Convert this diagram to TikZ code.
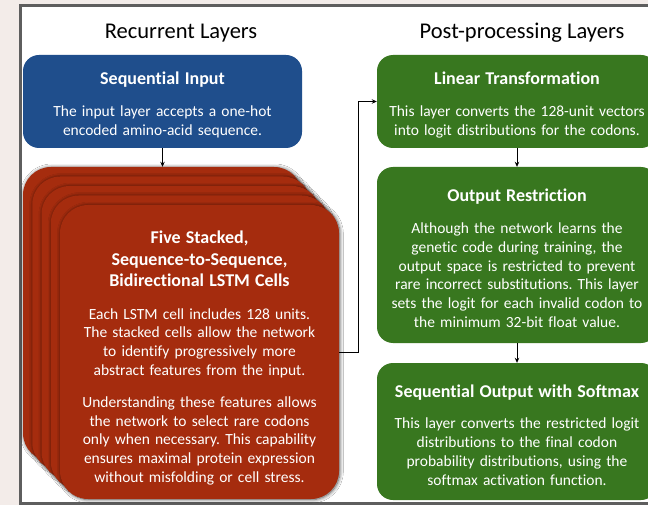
\documentclass[tikz,border=0pt]{standalone}
\usepackage{fontspec}
\setmainfont{Carlito}[Ligatures={NoCommon}]
\usetikzlibrary{arrows.meta,shadows.blur}
\frenchspacing

\definecolor{pagebg}{HTML}{F3ECE9}
\definecolor{framegray}{HTML}{5E5E5E}
\definecolor{inblue}{HTML}{1F4E8C}
\definecolor{lstmred}{HTML}{A52C0E}
\definecolor{postgreen}{HTML}{38771F}

\newcommand\ttlfont{\fontsize{18}{21.5}\selectfont\bfseries}
\newcommand\bodyfont{\fontsize{15.5}{18.8}\selectfont}
\newcommand\headfont{\fontsize{22.5}{27}\selectfont}
% block title; the strut sets the room above the first line
\newcommand\blocktitle[2][19.5pt]{{\ttlfont\rule{0pt}{#1}#2}}

\begin{document}
\begin{tikzpicture}[x=1pt,y=-1pt,
  blk/.style={rounded corners=16pt, text=white, align=center, font=\bodyfont,
    inner xsep=5pt, inner ysep=0pt, text width=270pt, minimum width=280pt},
  cardbox/.style={blk, fill=lstmred, rounded corners=28pt, text width=269pt,
    minimum width=279pt, minimum height=294pt,
    blur shadow={shadow xshift=0.8pt, shadow yshift=-0.5pt, shadow blur radius=3.5pt,
      shadow opacity=70, shadow blur steps=8}},
  heading/.style={font=\headfont, anchor=base, text=black},
  link/.style={draw=black, line width=0.8pt, -{Stealth[length=5pt,width=4.5pt]}}]

\useasboundingbox (0,0) rectangle (648,505);
\clip (0,0) rectangle (648,505);

% page and framed panel
\fill[pagebg] (0,0) rectangle (648,505);
\draw[framegray, line width=3pt, fill=white] (20.5,5.5) rectangle (700,503.5);

% column headings
\node[heading] (hrec) at (181,39) {Recurrent Layers};
\node[heading] (hpost) at (522,39) {Post-processing Layers};

% input block
\node[blk, fill=inblue, text width=269pt, minimum width=279pt, minimum height=93pt]
  (inp) at (162.5,101.5)
  {\blocktitle{Sequential Input}\\[13pt]
   The input layer accepts a one-hot\\encoded amino-acid sequence.};

% stack of LSTM cells, back to front
\foreach \k in {0,1,2,3} {
  \node[cardbox] (card\k) at (162.5+9.25*\k, 314+9.5*\k) {};
}
\node[cardbox] (card4) at (199.5,352)
  {\blocktitle[25pt]{Five Stacked,}\\[2.5pt]
   \blocktitle[0pt]{Sequence-to-Sequence,}\\[2.5pt]
   \blocktitle[0pt]{Bidirectional LSTM Cells}\\[14pt]
   Each LSTM cell includes 128 units.\\The stacked cells allow the network\\
   to identify progressively more\\abstract features from the input.\\[13pt]
   Understanding these features allows\\the network to select rare codons\\
   only when necessary. This capability\\ensures maximal protein expression\\
   without misfolding or cell stress.};

% post-processing blocks
\node[blk, fill=postgreen, minimum height=93pt] (lin) at (517,101.5)
  {\blocktitle{Linear Transformation}\\[13pt]
   This layer converts the 128-unit vectors\\into logit distributions for the codons.};

\node[blk, fill=postgreen, minimum height=176pt] (res) at (517,255)
  {\blocktitle{Output Restriction}\\[13pt]
   Although the network learns the\\genetic code during training, the\\
   output space is restricted to prevent\\rare incorrect substitutions. This layer\\
   sets the logit for each invalid codon to\\the minimum 32-bit float value.};

\node[blk, fill=postgreen, minimum height=137pt] (sof) at (517,431.5)
  {\blocktitle{Sequential Output with Softmax}\\[13pt]
   This layer converts the restricted logit\\distributions to the final codon\\
   probability distributions, using the\\softmax activation function.};

% connectors
\coordinate (bend) at (358,352);
\draw[link] (inp.south) -- (card0.north);
\draw[link] (card4.east) -- (bend) |- (lin.west);
\draw[link] (lin.south) -- (res.north);
\draw[link] (res.south) -- (sof.north);
\end{tikzpicture}
\end{document}
